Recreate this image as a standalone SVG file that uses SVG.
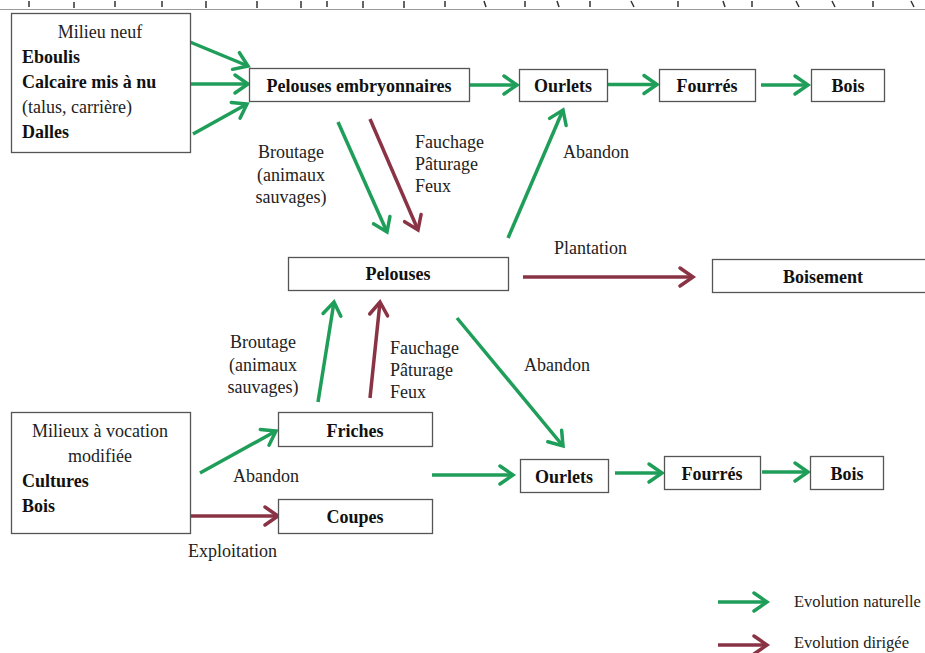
<svg xmlns="http://www.w3.org/2000/svg" width="925" height="653" viewBox="0 0 925 653">
<style>
.box{fill:#fff;stroke:#555;stroke-width:1.3}
.b{font-family:"Liberation Serif","Times New Roman",serif;font-size:18px;font-weight:bold;fill:#111}
.r{font-family:"Liberation Serif","Times New Roman",serif;font-size:18px;fill:#222}
.lg{font-size:16.5px}
.m{text-anchor:middle}
.g{stroke:#1f9e5a;stroke-width:3.5;fill:none}
.d{stroke:#8a3344;stroke-width:3.5;fill:none}
.ga{marker-end:url(#ag)}
.da{marker-end:url(#ad)}
</style>
<defs>
<marker id="ag" markerUnits="userSpaceOnUse" markerWidth="20" markerHeight="24" refX="15" refY="11" orient="auto" overflow="visible">
<path d="M2,2 L15,11 L2,20" fill="none" stroke="#1f9e5a" stroke-width="3.5" stroke-linecap="round" stroke-linejoin="miter"/>
</marker>
<marker id="ad" markerUnits="userSpaceOnUse" markerWidth="20" markerHeight="24" refX="15" refY="11" orient="auto" overflow="visible">
<path d="M2,2 L15,11 L2,20" fill="none" stroke="#8a3344" stroke-width="3.5" stroke-linecap="round" stroke-linejoin="miter"/>
</marker>
</defs>
<rect width="925" height="653" fill="#fff"/>
<g id="ruler">
<line x1="0" y1="9.5" x2="925" y2="9.5" stroke="#999" stroke-width="1"/>
<path d="M29,1v6 M74,2v6 M115,1v6 M162,1v6 M206,1v7 M257,1v7 M301,1v7 M327,1v6 M363,1v7 M404,1v7 M445,1v6 M484,1l2,6 M525,1v6 M557,1l2,6 M590,1v6 M631,1l3,6 M678,1v6 M723,1l2,6 M752,1v6 M796,1l3,6 M832,1l3,6 M873,1v6 M911,1l3,6" stroke="#333" stroke-width="1.5" fill="none"/>
</g>
<g id="connectors">
<line class="g ga" x1="190" y1="42" x2="248" y2="66"/>
<line class="g ga" x1="190" y1="84" x2="248" y2="84"/>
<line class="g ga" x1="193" y1="134" x2="247" y2="104"/>
<line class="g ga" x1="470" y1="85" x2="517" y2="85"/>
<line class="g ga" x1="608" y1="84.5" x2="657" y2="84.5"/>
<line class="g ga" x1="761" y1="85" x2="808" y2="85"/>
<line class="g ga" x1="338" y1="122" x2="387" y2="232"/>
<line class="d da" x1="370" y1="119" x2="418" y2="230"/>
<line class="g ga" x1="508" y1="238" x2="563" y2="110"/>
<line class="d da" x1="523" y1="277" x2="693" y2="277"/>
<line class="g ga" x1="318" y1="402" x2="334" y2="302"/>
<line class="d da" x1="370" y1="398" x2="380" y2="302"/>
<line class="g ga" x1="457" y1="318" x2="563" y2="446"/>
<line class="g ga" x1="432" y1="475" x2="513" y2="475"/>
<line class="g ga" x1="615" y1="473" x2="662" y2="473"/>
<line class="g ga" x1="762" y1="472" x2="808" y2="472"/>
<line class="g ga" x1="200" y1="473" x2="276" y2="431"/>
<line class="d da" x1="190" y1="516" x2="278" y2="516"/>
</g>
<g id="labels">
<text class="r m" x="291" y="158">Broutage</text>
<text class="r m" x="291" y="181">(animaux</text>
<text class="r m" x="291" y="203">sauvages)</text>
<text class="r" x="415" y="148">Fauchage</text>
<text class="r" x="415" y="170">Pâturage</text>
<text class="r" x="415" y="192">Feux</text>
<text class="r" x="563" y="158">Abandon</text>
<text class="r" x="554" y="254">Plantation</text>
<text class="r m" x="263" y="348">Broutage</text>
<text class="r m" x="263" y="371">(animaux</text>
<text class="r m" x="263" y="393">sauvages)</text>
<text class="r" x="390" y="354">Fauchage</text>
<text class="r" x="390" y="376">Pâturage</text>
<text class="r" x="390" y="398">Feux</text>
<text class="r" x="524" y="371">Abandon</text>
<text class="r" x="233" y="482">Abandon</text>
<text class="r" x="188" y="557">Exploitation</text>
</g>
<g id="milieu-neuf">
<rect class="box" x="11.5" y="13.5" width="179" height="139"/>
<text class="r m" x="100" y="38">Milieu neuf</text>
<text class="b" x="22" y="63">Eboulis</text>
<text class="b" x="22" y="88">Calcaire mis à nu</text>
<text class="r" x="22" y="113">(talus, carrière)</text>
<text class="b" x="22" y="138">Dalles</text>
</g>
<g id="pelouses-embryonnaires">
<rect class="box" x="249.5" y="68.5" width="220" height="33"/>
<text class="b m" x="359" y="92">Pelouses embryonnaires</text>
</g>
<g id="ourlets-1">
<rect class="box" x="519.5" y="69.5" width="88" height="32"/>
<text class="b m" x="563" y="92">Ourlets</text>
</g>
<g id="fourres-1">
<rect class="box" x="659.5" y="69.5" width="96" height="32"/>
<text class="b m" x="707" y="92">Fourrés</text>
</g>
<g id="bois-1">
<rect class="box" x="811.5" y="69.5" width="73" height="32"/>
<text class="b m" x="848" y="92">Bois</text>
</g>
<g id="pelouses">
<rect class="box" x="288.5" y="257.5" width="220" height="33"/>
<text class="b m" x="398" y="280">Pelouses</text>
</g>
<g id="boisement">
<rect class="box" x="712.5" y="259.5" width="220" height="33"/>
<text class="b m" x="823" y="283">Boisement</text>
</g>
<g id="milieux-vocation">
<rect class="box" x="11.5" y="412.5" width="179" height="121"/>
<text class="r m" x="100" y="437">Milieux à vocation</text>
<text class="r m" x="100" y="462">modifiée</text>
<text class="b" x="22" y="487">Cultures</text>
<text class="b" x="22" y="512">Bois</text>
</g>
<g id="friches">
<rect class="box" x="278.5" y="412.5" width="154" height="34"/>
<text class="b m" x="355" y="437">Friches</text>
</g>
<g id="coupes">
<rect class="box" x="278.5" y="499.5" width="154" height="34"/>
<text class="b m" x="355" y="523">Coupes</text>
</g>
<g id="ourlets-2">
<rect class="box" x="520.5" y="459.5" width="88" height="33"/>
<text class="b m" x="564" y="483">Ourlets</text>
</g>
<g id="fourres-2">
<rect class="box" x="664.5" y="456.5" width="96" height="33"/>
<text class="b m" x="712" y="480">Fourrés</text>
</g>
<g id="bois-2">
<rect class="box" x="810.5" y="456.5" width="73" height="33"/>
<text class="b m" x="847" y="480">Bois</text>
</g>
<g id="legend">
<line class="g ga" x1="718" y1="602" x2="767" y2="602"/>
<text class="r lg" x="794" y="607">Evolution naturelle</text>
<line class="d da" x1="718" y1="645" x2="767" y2="645"/>
<text class="r lg" x="794" y="648">Evolution dirigée</text>
</g>
</svg>
